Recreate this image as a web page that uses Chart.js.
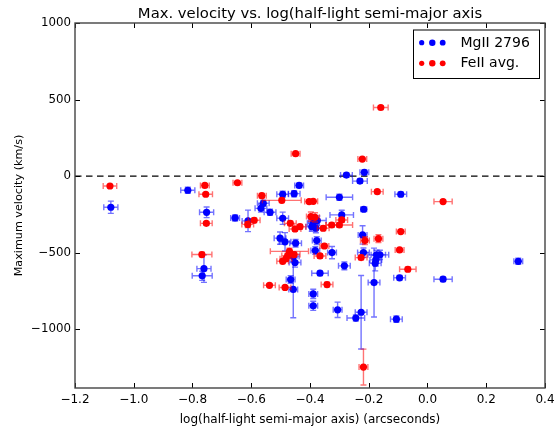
<!DOCTYPE html>
<html>
<head>
<meta charset="utf-8">
<script src="https://cdn.jsdelivr.net/npm/chart.js@4.4.0/dist/chart.umd.min.js"></script>
<style>
  html, body { margin: 0; padding: 0; background: #fff; }
  #wrap { width: 560px; height: 431px; }
</style>
</head>
<body>
<div id="wrap"><canvas id="velChart"></canvas></div>
<script>
// ================================================================
// Data
// ================================================================
const mgX = [-1.078, -0.816, -0.752, -0.761, -0.767, -0.655, -0.611, -0.567, -0.559, -0.536,
  -0.493, -0.454, -0.437, -0.493, -0.502, -0.485, -0.449, -0.457, -0.451, -0.466,
  -0.457, -0.389, -0.375, -0.394, -0.380, -0.377, -0.382, -0.366, -0.389, -0.389,
  -0.325, -0.292, -0.300, -0.283, -0.306, -0.276, -0.215, -0.230, -0.217, -0.221,
  -0.218, -0.173, -0.162, -0.176, -0.178, -0.182, -0.244, -0.226, -0.106, -0.091,
  -0.095, 0.053, 0.309];
const mgY = [-204, -93, -237, -605, -652, -274, -293, -211, -178, -237,
  -119, -115, -61, -276, -406, -430, -439, -526, -565, -676,
  -741, -309, -291, -331, -341, -422, -487, -635, -770, -848,
  -500, -254, -139, -587, -874, 6, 24, -33, -217, -385,
  -500, -515, -515, -548, -570, -696, -928, -890, -935, -119,
  -665, -674, -557];
const mgXerr = [0.024, 0.024, 0.024, 0.024, 0.034, 0.015, 0.02, 0.02, 0.02, 0.02,
  0.02, 0.02, 0.015, 0.02, 0.02, 0.02, 0.02, 0.02, 0.02, 0.015,
  0.015, 0.02, 0.03, 0.02, 0.02, 0.015, 0.015, 0.028, 0.015, 0.015,
  0.015, 0.04, 0.045, 0.02, 0.015, 0.02, 0.015, 0.025, 0.01, 0.015,
  0.02, 0.03, 0.03, 0.02, 0.02, 0.02, 0.03, 0.02, 0.02, 0.02,
  0.02, 0.031, 0.015];
const mgYerr = [40, 20, 35, 90, 30, 20, 70, 25, 20, 20,
  20, 20, 15, 40, 40, 60, 25, 30, 30, 25,
  185, 30, 30, 30, 30, 25, 25, 15, 30, 30,
  40, 30, 20, 25, 50, 15, 15, 15, 15, 60,
  30, 30, 30, 40, 50, 225, 20, 240, 20, 15,
  15, 15, 20];

const feX = [-1.081, -0.758, -0.755, -0.753, -0.768, -0.647, -0.564, -0.496, -0.403, -0.389,
  -0.612, -0.590, -0.467, -0.451, -0.434, -0.397, -0.383, -0.355, -0.326, -0.300,
  -0.292, -0.351, -0.366, -0.470, -0.476, -0.454, -0.482, -0.493, -0.538, -0.485,
  -0.342, -0.449, -0.222, -0.159, -0.171, 0.053, -0.091, -0.213, -0.167, -0.095,
  -0.226, -0.067, -0.218];
const feY = [-65, -61, -119, -309, -513, -44, -128, -159, -167, -165,
  -316, -289, -309, -346, -331, -265, -270, -341, -320, -320,
  -287, -457, -522, -492, -520, -513, -541, -557, -714, -728,
  -709, 146, 111, 448, -102, -167, -363, -422, -409, -483,
  -533, -609, -1248];
const feXerr = [0.023, 0.015, 0.023, 0.02, 0.034, 0.015, 0.015, 0.066, 0.015, 0.015,
  0.02, 0.02, 0.02, 0.02, 0.02, 0.015, 0.015, 0.02, 0.02, 0.045,
  0.02, 0.015, 0.02, 0.065, 0.02, 0.02, 0.02, 0.02, 0.02, 0.02,
  0.02, 0.015, 0.015, 0.025, 0.02, 0.031, 0.015, 0.015, 0.015, 0.015,
  0.02, 0.028, 0.015];
const feYerr = [10, 10, 10, 10, 15, 10, 15, 15, 10, 10,
  20, 15, 15, 15, 15, 30, 30, 15, 15, 15,
  15, 15, 15, 20, 15, 15, 15, 15, 10, 10,
  15, 10, 10, 10, 10, 10, 10, 25, 25, 10,
  15, 15, 117];

const xTicks = [-1.2, -1.0, -0.8, -0.6, -0.4, -0.2, 0.0, 0.2, 0.4];
const yTicks = [-1000, -500, 0, 500, 1000];

const titleText = 'Max. velocity vs. log(half-light semi-major axis';
const seriesNames = ['MgII 2796', 'FeII avg.'];
const FONT = '"DejaVu Sans", sans-serif';

// ================================================================
// Helpers
// ================================================================
const toPoints = (xs, ys) => xs.map((x, i) => ({ x: x, y: ys[i] }));
const fmt = (v, digits) => {
  const s = Math.abs(v).toFixed(digits);
  return (v < -1e-9 ? '\u2212' : '') + s;
};

// error bars under each dataset's markers
const errorBarPlugin = {
  id: 'errorBars',
  beforeDatasetDraw(chart, args) {
    const ds = chart.data.datasets[args.index];
    const xs = chart.scales.x, ys = chart.scales.y;
    const ctx = chart.ctx;
    const cap = 3;
    ctx.save();
    ctx.beginPath();
    ctx.rect(chart.chartArea.left, chart.chartArea.top,
      chart.chartArea.right - chart.chartArea.left, chart.chartArea.bottom - chart.chartArea.top);
    ctx.clip();
    ctx.strokeStyle = ds.errColor;
    ctx.lineWidth = 1.4;
    ds.data.forEach((p, i) => {
      const px = xs.getPixelForValue(p.x);
      const py = ys.getPixelForValue(p.y);
      const x1 = xs.getPixelForValue(p.x - ds.xErr[i]);
      const x2 = xs.getPixelForValue(p.x + ds.xErr[i]);
      const y1 = ys.getPixelForValue(p.y - ds.yErr[i]);
      const y2 = ys.getPixelForValue(p.y + ds.yErr[i]);
      ctx.beginPath();
      ctx.moveTo(x1, py); ctx.lineTo(x2, py);
      ctx.moveTo(x1, py - cap); ctx.lineTo(x1, py + cap);
      ctx.moveTo(x2, py - cap); ctx.lineTo(x2, py + cap);
      ctx.moveTo(px, y1); ctx.lineTo(px, y2);
      ctx.moveTo(px - cap, y1); ctx.lineTo(px + cap, y1);
      ctx.moveTo(px - cap, y2); ctx.lineTo(px + cap, y2);
      ctx.stroke();
    });
    ctx.restore();
  }
};

// frame, inward ticks, zero line, title, legend
const decorPlugin = {
  id: 'decor',
  beforeDatasetsDraw(chart) {
    const ctx = chart.ctx, a = chart.chartArea;
    const y0 = chart.scales.y.getPixelForValue(0);
    ctx.save();
    ctx.strokeStyle = '#000';
    ctx.lineWidth = 1.3;
    ctx.setLineDash([6.5, 4.5]);
    ctx.beginPath();
    ctx.moveTo(a.left, y0); ctx.lineTo(a.right, y0);
    ctx.stroke();
    ctx.restore();
  },
  afterDraw(chart) {
    const ctx = chart.ctx, a = chart.chartArea;
    const xs = chart.scales.x, ys = chart.scales.y;
    const tl = 5;
    ctx.save();
    ctx.strokeStyle = '#000';
    ctx.lineWidth = 1;
    xTicks.forEach(v => {
      const px = Math.round(xs.getPixelForValue(v)) + 0.5;
      ctx.beginPath();
      ctx.moveTo(px, a.bottom); ctx.lineTo(px, a.bottom - tl);
      ctx.moveTo(px, a.top); ctx.lineTo(px, a.top + tl);
      ctx.stroke();
    });
    yTicks.forEach(v => {
      const py = Math.round(ys.getPixelForValue(v)) + 0.5;
      ctx.beginPath();
      ctx.moveTo(a.left, py); ctx.lineTo(a.left + tl, py);
      ctx.moveTo(a.right, py); ctx.lineTo(a.right - tl, py);
      ctx.stroke();
    });
    ctx.strokeStyle = '#444';
    ctx.lineWidth = 1.4;
    ctx.strokeRect(a.left, a.top, a.right - a.left, a.bottom - a.top);

    // title
    ctx.fillStyle = '#000';
    ctx.font = '14.8px ' + FONT;
    ctx.textAlign = 'center';
    ctx.textBaseline = 'alphabetic';
    ctx.fillText(titleText, (a.left + a.right) / 2, 17.5);

    // legend
    const bx = 413, by = 29.5, bw = a.right - 6 - bx, bh = 48.5;
    ctx.fillStyle = '#fff';
    ctx.fillRect(bx, by, bw, bh);
    ctx.strokeStyle = '#000';
    ctx.lineWidth = 1;
    ctx.strokeRect(bx + 0.5, by + 0.5, bw, bh);
    const rows = [{ c: '#0000ff', y: 42.7 }, { c: '#ff0000', y: 63.3 }];
    const dotX = [421.7, 432.3, 442.7], dotR = [2.6, 3.2, 2.9];
    rows.forEach((r, k) => {
      ctx.fillStyle = r.c;
      dotX.forEach((dx, j) => {
        ctx.beginPath();
        ctx.arc(dx, r.y, dotR[j], 0, Math.PI * 2);
        ctx.fill();
      });
      ctx.fillStyle = '#000';
      ctx.font = '14px ' + FONT;
      ctx.textAlign = 'left';
      ctx.textBaseline = 'middle';
      ctx.fillText(seriesNames[k], 460.5, r.y + 0.5);
    });
    ctx.restore();
  }
};

// ================================================================
// Chart
// ================================================================
const config = {
  type: 'scatter',
  data: {
    datasets: [
      {
        label: seriesNames[0],
        data: toPoints(mgX, mgY),
        xErr: mgXerr,
        yErr: mgYerr,
        errColor: 'rgba(0,0,255,0.55)',
        backgroundColor: '#0000ff',
        borderWidth: 0,
        pointRadius: 3.6,
        order: 1
      },
      {
        label: seriesNames[1],
        data: toPoints(feX, feY),
        xErr: feXerr,
        yErr: feYerr,
        errColor: 'rgba(255,0,0,0.55)',
        backgroundColor: '#ff0000',
        borderWidth: 0,
        pointRadius: 3.6,
        order: 0
      }
    ]
  },
  options: {
    responsive: true,
    maintainAspectRatio: false,
    animation: false,
    layout: { padding: { top: 23, right: 15, left: 0, bottom: 0 } },
    plugins: {
      legend: { display: false },
      title: { display: false },
      tooltip: { enabled: false }
    },
    scales: {
      x: {
        type: 'linear',
        min: -1.2,
        max: 0.4,
        afterBuildTicks: (scale) => { scale.ticks = xTicks.map(v => ({ value: v })); },
        afterFit: (scale) => { scale.height = 43; },
        grid: { display: false, drawTicks: false },
        border: { display: false },
        ticks: {
          color: '#000',
          font: { family: FONT, size: 12 },
          padding: 5,
          maxRotation: 0,
          callback: (v) => fmt(v, 1)
        },
        title: {
          display: true,
          text: 'log(half-light semi-major axis) (arcseconds)',
          color: '#000',
          font: { family: FONT, size: 12 },
          padding: { top: 0, bottom: 4 }
        }
      },
      y: {
        type: 'linear',
        min: -1385,
        max: 1000,
        afterBuildTicks: (scale) => { scale.ticks = yTicks.map(v => ({ value: v })); },
        afterFit: (scale) => { scale.width = 75; },
        grid: { display: false, drawTicks: false },
        border: { display: false },
        ticks: {
          color: '#000',
          font: { family: FONT, size: 11.8 },
          padding: 4,
          callback: (v) => fmt(v, 0)
        },
        title: {
          display: true,
          text: 'Maximum velocity (km/s)',
          color: '#000',
          font: { family: FONT, size: 11.2 },
          padding: { top: 12, bottom: 0 }
        }
      }
    }
  },
  plugins: [errorBarPlugin, decorPlugin]
};

new Chart(document.getElementById('velChart'), config);
</script>
</body>
</html>
